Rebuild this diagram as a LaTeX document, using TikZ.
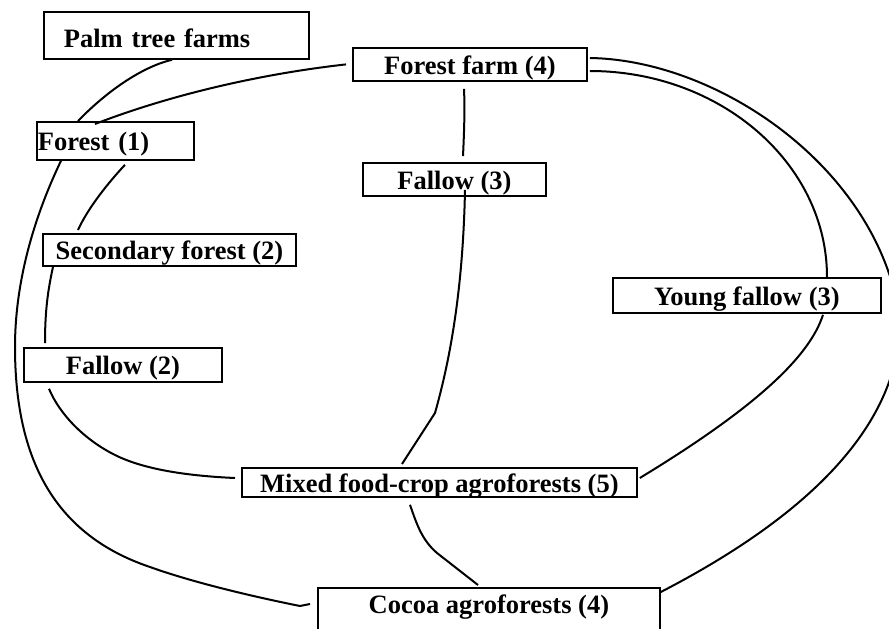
\documentclass[tikz,border=0pt]{standalone}
\usepackage{fontspec}
\setmainfont{Liberation Serif}
\begin{document}
\begin{tikzpicture}[x=1pt,y=-1pt]
\tikzset{
  stage/.style={draw, line width=1.8pt, anchor=north west, inner sep=0pt,
    font=\fontsize{26.5}{30}\selectfont\bfseries, text height=21pt, text depth=1.5pt},
  link/.style={line width=2pt}
}
\useasboundingbox (0,0) rectangle (889,629);
\clip (0,0) rectangle (889,629);

\node[stage, minimum width=265pt, minimum height=47pt, text width=225pt, align=left,
  inner xsep=20pt, text height=26pt, text depth=1.4pt] (palm) at (43,11) {Palm tree farms};
\node[stage, minimum width=234pt, minimum height=33pt] (ffarm) at (352,47) {Forest farm (4)};
\node[stage, minimum width=157pt, minimum height=38pt, text width=155pt, align=left,
  inner xsep=1pt] (forest) at (36,121) {Forest (1)};
\node[stage, minimum width=183pt, minimum height=33pt] (fallowC) at (362,162) {Fallow (3)};
\node[stage, minimum width=253pt, minimum height=32pt] (secfor) at (42,233) {Secondary forest (2)};
\node[stage, minimum width=268pt, minimum height=35pt] (young) at (612,277) {Young fallow (3)};
\node[stage, minimum width=198pt, minimum height=34pt] (fallowB) at (23,347) {Fallow (2)};
\node[stage, minimum width=395pt, minimum height=29pt] (mixed) at (241,467) {Mixed food-crop agroforests (5)};
\node[stage, minimum width=342pt, minimum height=50pt, text height=18pt,
  text depth=16.4pt] (cocoa) at (317,587) {Cocoa agroforests (4)};

\draw[link] ([shift={(129,0)}]palm.south west) .. controls (145,66) and (110,88) .. ([shift={(42,0)}]forest.north west);
\draw[link] ([shift={(-6,0)}]ffarm.west) .. controls (260,74) and (170,95) .. ([shift={(59,3)}]forest.north west);
\draw[link] ([shift={(25,0)}]forest.south west) .. controls (35,215) and (15,280) .. (15,347)
  .. controls (15,460) and (55,535) .. (150,567) .. controls (200,585) and (270,600) .. (300,606)
  -- ([shift={(-7,17)}]cocoa.north west);
\draw[link] ([shift={(89,4)}]forest.south west) .. controls (108,183) and (88,208) .. ([shift={(36,-3)}]secfor.north west);
\draw[link] ([shift={(11,0)}]secfor.south west) .. controls (48,290) and (45,310) .. ([shift={(22,-4)}]fallowB.north west);
\draw[link] ([shift={(26,6)}]fallowB.south west) .. controls (60,415) and (85,440) .. (115,455)
  .. controls (145,470) and (190,476) .. ([shift={(-6,11)}]mixed.north west);
\draw[link] ([shift={(112,7)}]ffarm.south west) .. controls (465,110) and (464,135) .. ([shift={(101,-6)}]fallowC.north west);
\draw[link] ([shift={(103,-7)}]fallowC.south west) .. controls (463,290) and (450,360) .. (435,413)
  -- ([shift={(161,-3)}]mixed.north west);
\draw[link] ([shift={(2,24)}]ffarm.north east) .. controls (720,71) and (827,163) .. ([shift={(215,0)}]young.north west);
\draw[link] ([shift={(2,11)}]ffarm.north east) .. controls (720,60) and (880,170) .. (900,320)
  .. controls (900,430) and (800,520) .. ([shift={(0,5)}]cocoa.north east);
\draw[link] ([shift={(211,1)}]young.south west) .. controls (810,355) and (760,405) .. ([shift={(2,11)}]mixed.north east);
\draw[link] ([shift={(169,7)}]mixed.south west) .. controls (417,525) and (422,540) .. (437,553)
  -- ([shift={(161,-2)}]cocoa.north west);
\end{tikzpicture}
\end{document}
